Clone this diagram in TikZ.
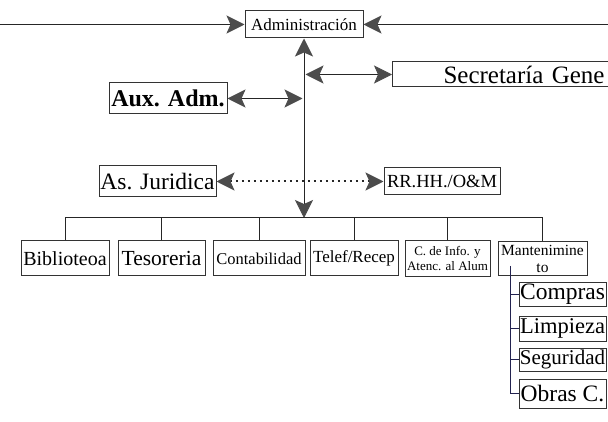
\documentclass[tikz,border=0pt]{standalone}
\usepackage{fontspec}
\setmainfont{Liberation Serif}
\usetikzlibrary{arrows.meta}
\begin{document}
\begin{tikzpicture}[x=1pt,y=-1pt,
  >={Stealth[length=18pt,width=18pt,inset=4pt,color=black!70]},
  box/.style={draw=black!80, line width=1pt, inner sep=0pt, align=center},
  conn/.style={draw=black!85, line width=1pt},
  subconn/.style={draw={rgb,255:red,35;green,35;blue,80}, line width=1pt},
  dotline/.style={conn, line width=2pt, dash pattern=on 2pt off 4pt},
  fsz/.style={font=\fontsize{#1}{#1}\selectfont}]
\useasboundingbox (0,0) rectangle (608,422);
\fill[white] (0,0) rectangle (608,422);
\clip (0,0) rectangle (608,422);

% top
\node[box, minimum width=118pt, minimum height=27pt, fsz=17] (adm) at (304,24.5) {Administración};
\node[box, anchor=west, minimum width=300pt, minimum height=25pt, text width=300pt, align=left, fsz=25] (sec) at (392,74.5) {\hspace*{51pt}Secretaría Gene};
\node[box, minimum width=118pt, minimum height=31pt, font=\fontsize{24}{26}\selectfont\bfseries] (aux) at (168,98.5) {Aux. Adm.};
\node[box, minimum width=117pt, minimum height=31pt, fsz=23.5] (jur) at (157.5,181.5) {As. Juridica};
\node[box, minimum width=116pt, minimum height=27pt, fsz=18.5] (rrhh) at (442,181.5) {RR.HH./O\&M};

% bottom row
\node[box, minimum width=88pt, minimum height=35pt, fsz=20] (bib) at (65,258.5) {Biblioteoa};
\node[box, minimum width=87pt, minimum height=35pt, fsz=21.5] (tes) at (161.5,258.5) {Tesoreria};
\node[box, minimum width=92pt, minimum height=35pt, fsz=16.5] (con) at (259,258.5) {Contabilidad};
\node[box, minimum width=88pt, minimum height=35pt, fsz=17] (tel) at (354,258.5) {Telef/Recep};
\node[box, minimum width=85pt, minimum height=36pt, font=\fontsize{13}{15}\selectfont] (cin) at (447.5,259) {C. de Info. y\\Atenc. al Alum};
\node[box, minimum width=89pt, minimum height=34pt, anchor=north, font=\fontsize{15.5}{17}\selectfont] (man) at (542.5,241) {Mantenimine\\to};

% sub boxes
\node[box, minimum width=87pt, minimum height=23pt, fsz=23.5] (com) at (562.5,294.5) {Compras};
\node[box, minimum width=87pt, minimum height=25pt, fsz=22.5] (lim) at (562.5,328.5) {Limpieza};
\node[box, minimum width=87pt, minimum height=23pt, fsz=21] (seg) at (562.5,359.5) {Seguridad};
\node[box, minimum width=87pt, minimum height=29pt, fsz=23.5] (obr) at (562.5,393.5) {Obras C.};

% coordinates
\coordinate (lft) at (0,24.5);
\coordinate (rgt) at (608,24.5);
\coordinate (bus) at (304,218);
\coordinate (secL) at (305.5,74.5);
\coordinate (auxR) at (302.5,98.5);
\coordinate (mtop) at (510,266);

% connectors
\draw[conn,->] (lft) -- (adm.west);
\draw[conn,->] (rgt) -- (adm.east);
\draw[conn,<->] (adm.south) -- (bus);
\draw[conn,<->] (secL) -- (sec.west);
\draw[conn,<->] (aux.east) -- (auxR);
\draw[dotline,<->] (jur.east) -- (rrhh.west);

\draw[conn] (bib.north) -- (bib.north |- bus) -- (man.north |- bus) -- (man.north);
\draw[conn] (tes.north) -- (tes.north |- bus);
\draw[conn] (con.north) -- (con.north |- bus);
\draw[conn] (tel.north) -- (tel.north |- bus);
\draw[conn] (cin.north) -- (cin.north |- bus);

\draw[subconn] (mtop) -- (mtop |- obr.west) -- (obr.west);
\draw[subconn] (mtop |- com.west) -- (com.west);
\draw[subconn] (mtop |- lim.west) -- (lim.west);
\draw[subconn] (mtop |- seg.west) -- (seg.west);
\end{tikzpicture}
\end{document}
